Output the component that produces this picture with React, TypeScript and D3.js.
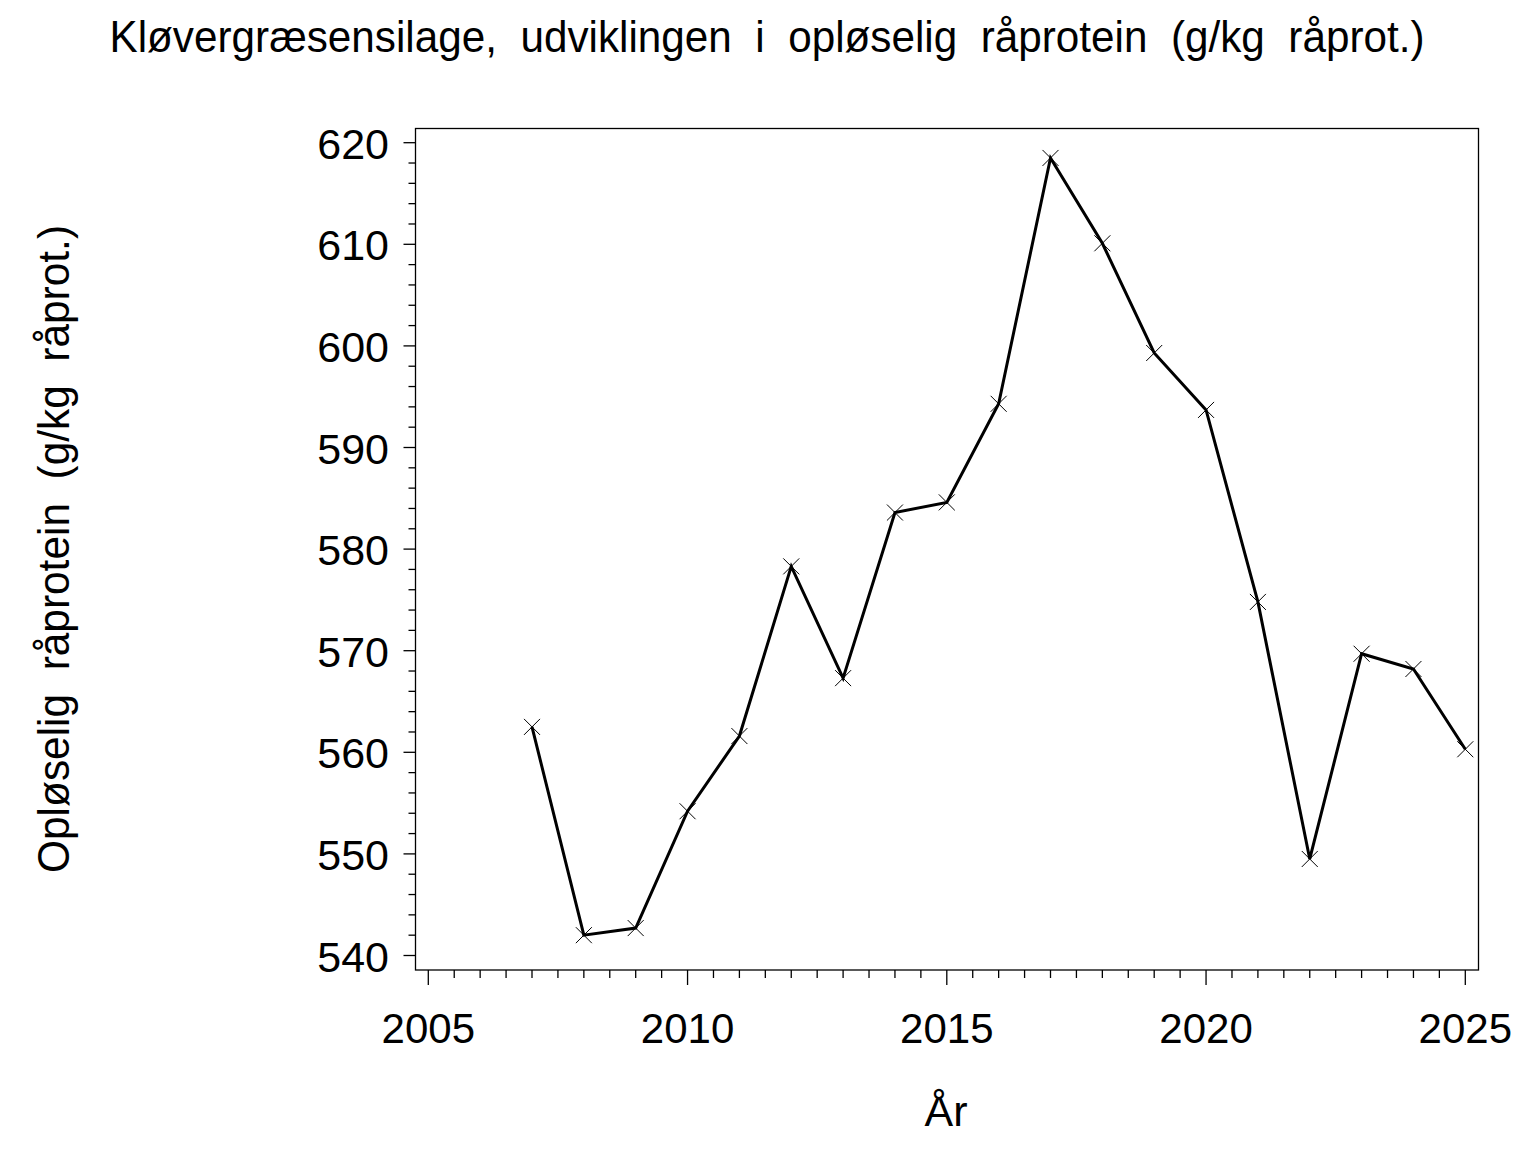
import React from "react";
import * as d3 from "d3";

const years = [2007, 2008, 2009, 2010, 2011, 2012, 2013, 2014, 2015, 2016, 2017, 2018, 2019, 2020, 2021, 2022, 2023, 2024, 2025];
const values = [562.5, 542.0, 542.7, 554.2, 561.6, 578.3, 567.3, 583.6, 584.6, 594.3, 618.5, 610.1, 599.3, 593.7, 574.8, 549.5, 569.7, 568.2, 560.3];
const xTicks = [2005, 2010, 2015, 2020, 2025];
const yTicks = [540, 550, 560, 570, 580, 590, 600, 610, 620];
const title = "Kløvergræsensilage,  udviklingen  i  opløselig  råprotein  (g/kg  råprot.)";
const yLabel = "Opløselig  råprotein  (g/kg  råprot.)";
const xLabel = "År";

const W = 1536;
const H = 1152;
const frame = { left: 415.5, right: 1478.5, top: 128.5, bottom: 970 };
const FONT = "'Liberation Sans', Arial, sans-serif";

export default function App() {
  const x = d3.scaleLinear().domain([2005, 2025]).range([428.3, 1465.3]);
  const y = d3.scaleLinear().domain([540, 620]).range([955.5, 142.7]);
  const pts = years.map((yr, i) => [yr, values[i]] as [number, number]);
  const line = d3
    .line<[number, number]>()
    .x((d) => x(d[0]))
    .y((d) => y(d[1]));
  const xMinor = d3.range(2005, 2025.001, 0.5);
  const yMinor = d3.range(540, 620.001, 2);
  const m = 8;

  return (
    <svg
      width={W}
      height={H}
      style={{ position: "absolute", left: 0, top: 0, background: "#fff" }}
      fontFamily={FONT}
    >
      <rect x={0} y={0} width={W} height={H} fill="#fff" />
      <text
        x={767}
        y={52}
        fontSize={44}
        textAnchor="middle"
        textLength={1315}
        lengthAdjust="spacingAndGlyphs"
        style={{ whiteSpace: "pre" }}
      >
        {title}
      </text>
      <rect
        x={frame.left}
        y={frame.top}
        width={frame.right - frame.left}
        height={frame.bottom - frame.top}
        fill="none"
        stroke="#000"
        strokeWidth={1.3}
      />
      {yMinor.map((v) => {
        const major = v % 10 === 0;
        return (
          <line
            key={"ym" + v}
            x1={frame.left - (major ? 12 : 7)}
            x2={frame.left}
            y1={y(v)}
            y2={y(v)}
            stroke="#000"
            strokeWidth={1.3}
          />
        );
      })}
      {yTicks.map((v) => (
        <text key={"yt" + v} x={389} y={y(v) + 16} fontSize={43} textAnchor="end">
          {v}
        </text>
      ))}
      {xMinor.map((v) => {
        const major = Math.abs(v % 5) < 1e-9;
        return (
          <line
            key={"xm" + v}
            x1={x(v)}
            x2={x(v)}
            y1={frame.bottom}
            y2={frame.bottom + (major ? 15 : 8)}
            stroke="#000"
            strokeWidth={1.3}
          />
        );
      })}
      {xTicks.map((v) => (
        <text key={"xt" + v} x={x(v)} y={1043} fontSize={42} textAnchor="middle">
          {v}
        </text>
      ))}
      <text x={946} y={1126} fontSize={43} textAnchor="middle">
        {xLabel}
      </text>
      <text
        transform="translate(69,549) rotate(-90)"
        fontSize={44}
        textAnchor="middle"
        textLength={648}
        lengthAdjust="spacingAndGlyphs"
        style={{ whiteSpace: "pre" }}
      >
        {yLabel}
      </text>
      <path d={line(pts) || ""} fill="none" stroke="#000" strokeWidth={3} strokeLinejoin="miter" />
      {pts.map((p, i) => (
        <g key={"mk" + i} transform={`translate(${x(p[0])},${y(p[1])})`}>
          <line x1={-m} y1={-m} x2={m} y2={m} stroke="#000" strokeWidth={1} />
          <line x1={-m} y1={m} x2={m} y2={-m} stroke="#000" strokeWidth={1} />
        </g>
      ))}
    </svg>
  );
}
